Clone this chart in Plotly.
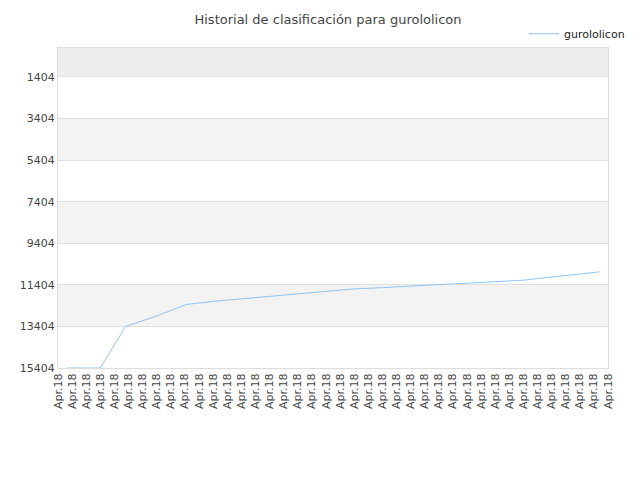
import plotly.graph_objects as go

pos = [0.6, 3.0, 4.8, 7.0, 9.1, 11.0, 13.0, 15.0, 17.0, 19.0, 21.0, 23.0,
       25.0, 27.0, 29.0, 31.0, 33.0, 35.0, 37.0, 38.4]
rank = [15404, 15404, 13404, 12900, 12350, 12200, 12080, 11960, 11820, 11700,
        11600, 11540, 11470, 11400, 11330, 11270, 11180, 11030, 10880, 10780]
tick_vals = list(range(40))
tick_text = ["Apr.18"] * 40
y_ticks = [1404, 3404, 5404, 7404, 9404, 11404, 13404, 15404]

fig = go.Figure()
fig.add_trace(go.Scatter(x=pos, y=rank, mode="lines", name="gurololicon",
                         showlegend=True,
                         line=dict(color="#90c4f2", width=1)))

# alternating bands
bands = [(0, 1404, "#eeeeee"), (3404, 5404, "#f3f3f3"),
         (7404, 9404, "#f3f3f3"), (11404, 13404, "#f3f3f3")]
for y0, y1, c in bands:
    fig.add_shape(type="rect", xref="paper", x0=0, x1=1, y0=y0, y1=y1,
                  fillcolor=c, line_width=0, layer="below")

fig.update_layout(
    width=640, height=480,
    margin=dict(l=50, r=40, t=40, b=120, autoexpand=False),
    paper_bgcolor="white", plot_bgcolor="white",
    title=dict(text="Historial de clasificación para gurololicon", x=0.5,
               y=0.985, yanchor="top",
               font=dict(size=13, color="#444", family="DejaVu Sans")),
    font=dict(family="DejaVu Sans", size=11, color="#444"),
    showlegend=True,
    legend=dict(x=1.04, y=1.09, xanchor="right", yanchor="top",
                bgcolor="rgba(0,0,0,0)", font=dict(size=11, color="#222")),
    xaxis=dict(range=[0, 39], tickvals=tick_vals, ticktext=tick_text,
               tickangle=-90, showgrid=False, zeroline=False, automargin=False,
               showline=True, linecolor="#ddd", mirror=True),
    yaxis=dict(range=[15404, 14], autorange=False, tickvals=y_ticks,
               ticktext=[str(v) for v in y_ticks], automargin=False,
               showgrid=True, gridcolor="#e0e0e0", zeroline=False,
               showline=True, linecolor="#ddd", mirror=True),
)

fig.write_html("out.html")
